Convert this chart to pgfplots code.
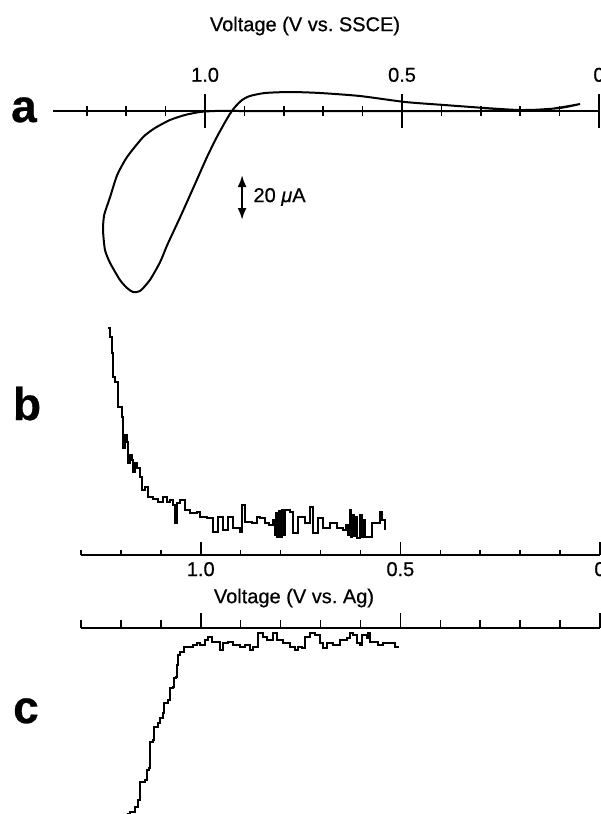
\documentclass[border=0pt]{standalone}
\usepackage{fontspec}
\setmainfont{Liberation Sans}[FakeBold=0.6]
\usepackage{pgfplots}
\pgfplotsset{compat=1.18}
\usetikzlibrary{arrows.meta}

\begin{document}
\begin{tikzpicture}
\pgfplotsset{
  panel/.style={scale only axis, clip=false, x dir=reverse, axis y line=none, ytick=\empty, xmin=0,
    every tick/.append style={black, line width=0.8pt},
    axis line style={line width=1.1pt},
    minor xtick={0.1,0.2,0.3,0.4,0.6,0.7,0.8,0.9,1.1,1.2,1.3},
    xtick={0,0.5,1},
  },
}
% ---------------- panel a
\begin{axis}[panel, axis x line*=middle, xmax=1.386, width=273pt,
  axis line style={line width=1.4pt},
  ymin=-190, ymax=25, height=107.5pt, at={(26.5pt,-150.5pt)}, anchor=south west,
  tick align=center, major tick length=17pt, minor tick length=5pt,
  xticklabels={0,0.5,1.0}, xticklabel style={anchor=south, yshift=19.5pt}]
\addplot[black, line width=1pt, smooth, tension=0.4] coordinates {
(0.048,7) (0.099,3) (0.175,1) (0.302,0) (0.505,0) (0.759,0) (0.911,0) (0.975,0)
(1.013,-1) (1.051,-4) (1.089,-9) (1.127,-17) (1.157,-26) (1.198,-46) (1.223,-64)
(1.241,-86) (1.256,-104) (1.259,-119) (1.254,-139) (1.241,-152) (1.216,-169)
(1.198,-177) (1.183,-181) (1.165,-180) (1.140,-169) (1.114,-151) (1.096,-134)
(1.063,-106) (1.030,-77) (0.995,-46) (0.970,-26) (0.949,-11) (0.937,-3) (0.924,4)
(0.906,11) (0.886,15) (0.848,18) (0.784,19) (0.708,18) (0.607,15) (0.492,9)
(0.393,6) (0.289,3) (0.201,1) (0.124,2) (0.048,7)
};
\draw[{Latex[length=6pt,width=4.5pt]}-{Latex[length=6pt,width=4.5pt]}, line width=1.1pt]
  (axis cs:0.906,-64) -- (axis cs:0.906,-109);
\node[anchor=west, inner sep=0pt] at (axis cs:0.878,-86) {20 \textit{μ}A};
\end{axis}
% ---------------- panel b
\begin{axis}[panel, axis x line*=bottom, xmax=1.3, width=259.5pt,
  ymin=0, ymax=230, height=115pt, at={(40.5pt,-277.5pt)}, anchor=south west,
  tick align=inside, major tick length=6.5pt, minor tick length=2.5pt,
  xticklabels={0,0.5,1.0}]
\addplot[black, line width=1pt, const plot] coordinates {
(1.233,227) (1.228,218) (1.223,202) (1.221,178) (1.216,173) (1.208,172) (1.208,148)
(1.198,138) (1.195,125) (1.195,107) (1.190,120) (1.185,113) (1.183,92) (1.178,100)
(1.173,95) (1.170,83) (1.165,92) (1.160,87) (1.153,78) (1.148,65) (1.140,68)
(1.133,58) (1.120,56) (1.108,53) (1.095,58) (1.085,53) (1.078,55) (1.070,50)
(1.065,32) (1.060,52) (1.053,55) (1.040,45) (1.028,42) (1.010,43) (1.003,38)
(0.985,37) (0.970,23) (0.957,38) (0.945,25) (0.932,38) (0.920,27) (0.902,23)
(0.897,50) (0.890,33) (0.872,32) (0.860,38) (0.852,37) (0.840,32) (0.830,30)
(0.820,35) (0.815,20) (0.812,42) (0.808,18) (0.805,44) (0.802,18) (0.797,45)
(0.794,20) (0.789,45) (0.777,43) (0.769,22) (0.757,38) (0.739,32) (0.727,48)
(0.719,22) (0.707,37) (0.694,27) (0.677,32) (0.659,27) (0.644,25) (0.635,30)
(0.630,20) (0.627,45) (0.624,18) (0.620,40) (0.617,19) (0.612,38) (0.609,17)
(0.602,40) (0.597,18) (0.593,35) (0.589,18) (0.571,32) (0.551,43) (0.545,35)
(0.539,25)
};
\end{axis}
% ---------------- panel c
\begin{axis}[panel, axis x line*=top, xmax=1.3, width=259.5pt,
  ymin=-190, ymax=0, height=95pt, at={(40.5pt,-314pt)}, anchor=north west,
  tick align=outside, major tick length=7.5pt, minor tick length=4pt,
  xticklabels={,,}]
\addplot[black, line width=1pt, const plot] coordinates {
(1.185,-186) (1.178,-184) (1.165,-179) (1.158,-172) (1.153,-154) (1.140,-152)
(1.135,-142) (1.130,-140) (1.128,-114) (1.120,-112) (1.118,-99) (1.108,-95)
(1.103,-90) (1.095,-85) (1.093,-75) (1.083,-72) (1.078,-60) (1.070,-59)
(1.068,-50) (1.063,-49) (1.060,-37) (1.058,-27) (1.053,-24) (1.043,-21)
(1.043,-19) (1.028,-19) (1.020,-17) (1.010,-15) (1.003,-17) (0.990,-12)
(0.982,-9) (0.972,-14) (0.960,-14) (0.952,-22) (0.945,-15) (0.932,-14)
(0.920,-17) (0.902,-19) (0.890,-17) (0.877,-22) (0.870,-19) (0.857,-5)
(0.845,-9) (0.835,-12) (0.820,-5) (0.810,-12) (0.794,-15) (0.777,-19)
(0.764,-22) (0.757,-19) (0.747,-20) (0.739,-9) (0.727,-5) (0.714,-7)
(0.702,-15) (0.694,-20) (0.684,-15) (0.669,-17) (0.652,-12) (0.634,-10)
(0.627,-5) (0.619,-7) (0.609,-15) (0.602,-17) (0.596,-7) (0.584,-10)
(0.581,-5) (0.576,-14) (0.564,-14) (0.556,-17) (0.544,-15) (0.526,-15)
(0.514,-19) (0.506,-20)
};
\end{axis}
% ---------------- texts
\node at (152.5pt,-13pt) {Voltage (V vs.\ SSCE)};
\node at (147pt,-299pt) {Voltage (V vs.\ Ag)};
\node[font=\fontsize{23}{23}\selectfont\bfseries, anchor=base] at (12pt,-61pt) {a};
\node[font=\fontsize{23}{23}\selectfont\bfseries, anchor=base] at (13.5pt,-210pt) {b};
\node[font=\fontsize{23}{23}\selectfont\bfseries, anchor=base] at (13pt,-361.5pt) {c};
\pgfresetboundingbox
\useasboundingbox (0pt,0pt) rectangle (300pt,-407pt);
\end{tikzpicture}
\end{document}
